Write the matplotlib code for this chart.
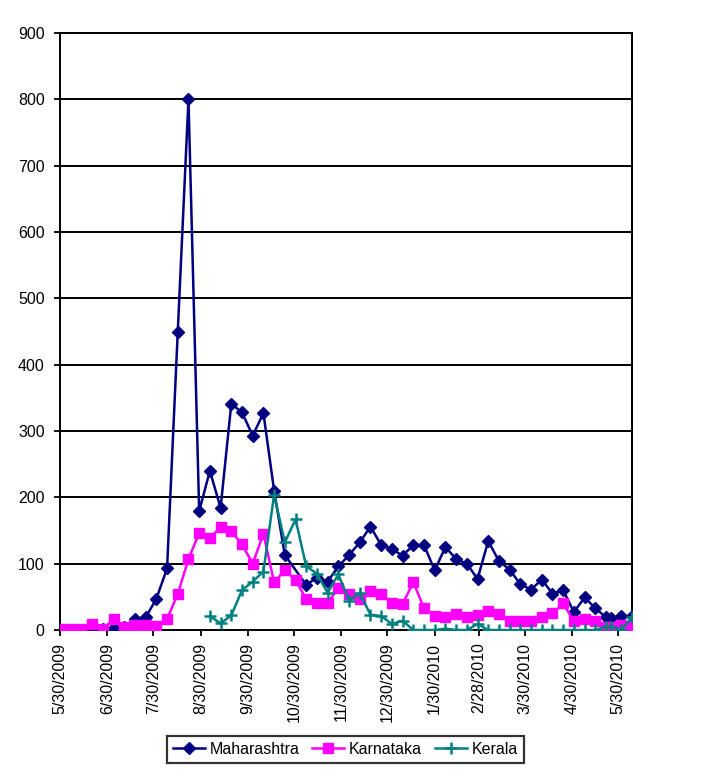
import numpy as np
import matplotlib
matplotlib.use("Agg")
from matplotlib import pyplot as plt
import matplotlib.dates as mdates
from datetime import date, timedelta

plt.rcParams['font.family'] = ['Liberation Sans', 'DejaVu Sans']

# weekly dates from 5/30/2009, the last few are irregular
dates = [date(2009, 5, 30) + timedelta(days=7 * k) for k in range(51)]
dates += [date(2010, 5, 22), date(2010, 5, 25), date(2010, 6, 1), date(2010, 6, 8)]

nan = np.nan
maharashtra = [0, 0, 0, 0, 1, 3, 5, 17, 19, 47, 93, 450, 800, 179, 240, 184, 341, 328, 293, 327,
               210, 113, nan, 68, 79, 73, 96, 113, 132, 156, 128, 122, 112, 128, 128, 90, 125, 107, 100, 77,
               134, 104, 91, 69, 61, 76, 55, 60, 27, 49, 33, 19, 18, 21, 21]
karnataka = [1, 1, 1, 9, 2, 16, 5, 7, 8, 6, 17, 54, 107, 146, 139, 155, 149, 129, 100, 145,
             72, 90, 75, 47, 41, 41, 63, 55, 47, 59, 55, 41, 39, 72, 33, 21, 19, 24, 19, 23,
             29, 24, 14, 14, 14, 19, 25, 40, 13, 16, 13, 5, 5, 8, 6]
kerala = [nan] * 14 + [21, 10, 22, 60, 73, 88, 204, 132, 167, 96, 85, 56, 84, 44, 56, 23, 21, 9, 14, 0,
                       0, 0, 2, 0, 0, 9, 0, 0, 0, 0, 0, 0, 0, 0, 0, 0, 0, 5, 5, 0, 19]

tick_labels = ['5/30/2009', '6/30/2009', '7/30/2009', '8/30/2009', '9/30/2009', '10/30/2009',
               '11/30/2009', '12/30/2009', '1/30/2010', '2/28/2010', '3/30/2010', '4/30/2010',
               '5/30/2010']

x = mdates.date2num(dates)


def series(vals):
    # skip missing points, the line joins over them like in the original
    v = np.array(vals, dtype=float)
    ok = ~np.isnan(v)
    return x[ok], v[ok]


fig = plt.figure(figsize=(7.25, 7.77), dpi=100)
ax = fig.add_axes([60 / 725, 1 - 630 / 777, 572 / 725, 597 / 777])

xm, ym = series(maharashtra)
ax.plot(xm, ym, color='#000080', lw=1.8, marker='D', ms=6.3, label='Maharashtra', zorder=3)
xk, yk = series(karnataka)
ax.plot(xk, yk, color='#FF00FF', lw=1.8, marker='s', ms=7.3, label='Karnataka', zorder=4)
xe, ye = series(kerala)
ax.plot(xe, ye, color='#008080', lw=1.8, marker='+', ms=9, mew=1.8, label='Kerala', zorder=5)

ax.set_ylim(0, 900)
ax.set_yticks(np.arange(0, 901, 100))
ax.set_xlim(x[0], x[-1])
ticks = [mdates.date2num(date(int(t.split('/')[2]), int(t.split('/')[0]), int(t.split('/')[1])))
         for t in tick_labels]
ax.set_xticks(ticks)
ax.set_xticklabels(tick_labels, rotation=90, fontsize=11.5)
for lab in ax.get_yticklabels():
    lab.set_fontsize(11.5)

ax.grid(True, axis='y', color='black', lw=1.4)
ax.set_axisbelow(True)
for s in ax.spines.values():
    s.set_color('black')
    s.set_linewidth(1.4)
ax.tick_params(axis='both', direction='out', length=4, width=1.3, color='black')
ax.tick_params(axis='y', pad=7)
ax.tick_params(axis='x', pad=5)

leg = fig.legend(loc='center', bbox_to_anchor=(345.5 / 725, 1 - 749.5 / 777), ncol=3,
                 fontsize=11.5, frameon=True, fancybox=False, handlelength=2.0,
                 columnspacing=0.8, handletextpad=0.3, borderpad=0.35, borderaxespad=0)
leg.get_frame().set_edgecolor('black')
leg.get_frame().set_linewidth(1.6)

fig.savefig('out.png', dpi=100)
